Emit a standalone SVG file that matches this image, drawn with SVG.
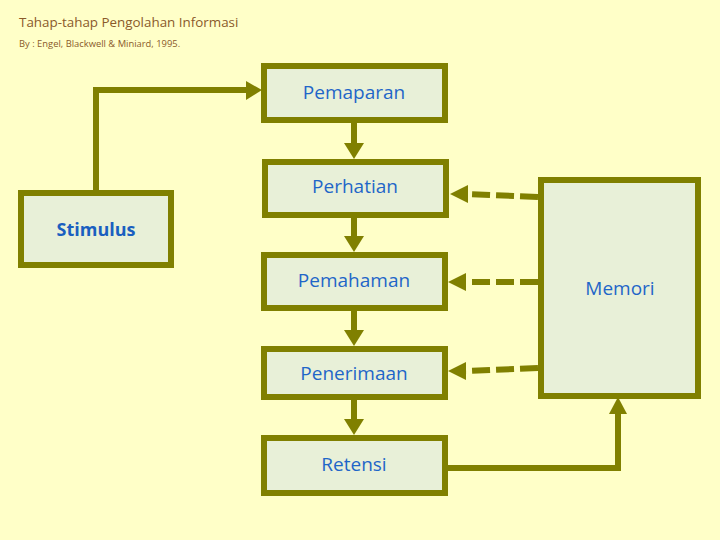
<svg xmlns="http://www.w3.org/2000/svg" width="720" height="540" viewBox="0 0 720 540">
<defs>
<style>
.box{fill:#E8F0D8;stroke:#808000;stroke-width:6}
.lbl{font-family:"Open Sans","Liberation Sans",sans-serif;font-size:19px;fill:#1F66C8;text-anchor:middle;dominant-baseline:central}
.ln{fill:none;stroke:#808000;stroke-width:6}
.dash{fill:none;stroke:#808000;stroke-width:6;stroke-dasharray:18 6}
.hd{fill:#808000}
</style>
</defs>
<rect width="720" height="540" fill="#FFFFC8"/>
<text x="19" y="27" font-family="'Open Sans','Liberation Sans',sans-serif" font-size="13.4" fill="#8A5A2A">Tahap-tahap Pengolahan Informasi</text>
<text x="19" y="47" font-family="'Open Sans','Liberation Sans',sans-serif" font-size="9.4" fill="#8A5A2A">By : Engel, Blackwell &amp; Miniard, 1995.</text>
<g id="connectors">
<polyline class="ln" points="96,190 96,90 248,90"/>
<polygon class="hd" points="246,81 262,90 246,100"/>
<line class="ln" x1="354" y1="123" x2="354" y2="145"/>
<polygon class="hd" points="344,143 364,143 354,159"/>
<line class="ln" x1="354" y1="218" x2="354" y2="238"/>
<polygon class="hd" points="344,236 364,236 354,252"/>
<line class="ln" x1="354" y1="311" x2="354" y2="332"/>
<polygon class="hd" points="344,330 364,330 354,346"/>
<line class="ln" x1="354" y1="400" x2="354" y2="421"/>
<polygon class="hd" points="344,419 364,419 354,435"/>
<polyline class="ln" points="448,468 618,468 618,412"/>
<polygon class="hd" points="609,414 627,414 618,397"/>
<line class="dash" x1="538" y1="197" x2="466" y2="194"/>
<polygon class="hd" points="468,185 450,194 468,203"/>
<line class="dash" x1="538" y1="282" x2="466" y2="282"/>
<polygon class="hd" points="466,273 448,282 466,291"/>
<line class="dash" x1="538" y1="368" x2="466" y2="371"/>
<polygon class="hd" points="466,362 448,371 466,380"/>
</g>
<g id="stimulus"><rect class="box" x="21" y="193" width="150" height="72"/><text class="lbl" x="96" y="229" style="fill:#1A5FC0;font-weight:bold;font-size:18px">Stimulus</text></g>
<g id="pemaparan"><rect class="box" x="264" y="66" width="181" height="54"/><text class="lbl" x="354" y="92">Pemaparan</text></g>
<g id="perhatian"><rect class="box" x="265" y="162" width="181" height="53"/><text class="lbl" x="355" y="186">Perhatian</text></g>
<g id="pemahaman"><rect class="box" x="264" y="255" width="181" height="53"/><text class="lbl" x="354" y="280">Pemahaman</text></g>
<g id="penerimaan"><rect class="box" x="264" y="349" width="181" height="48"/><text class="lbl" x="354" y="373">Penerimaan</text></g>
<g id="retensi"><rect class="box" x="264" y="438" width="181" height="55"/><text class="lbl" x="354" y="464">Retensi</text></g>
<g id="memori"><rect class="box" x="541" y="180" width="157" height="216"/><text class="lbl" x="620" y="288">Memori</text></g>
</svg>
